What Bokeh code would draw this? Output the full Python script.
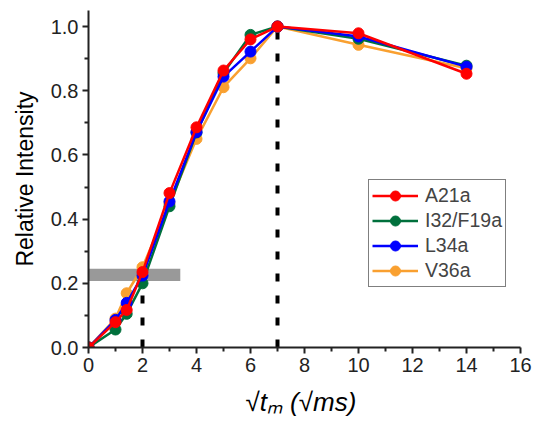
from bokeh.plotting import figure
from bokeh.models import Legend, LegendItem, FixedTicker, Range1d, ColumnDataSource
from bokeh.embed import file_html
from bokeh.resources import INLINE

# data
x_vals = [0, 1, 1.414, 2, 3, 4, 5, 6, 7, 10, 14]
a21a = [0.0, 0.079, 0.117, 0.235, 0.481, 0.686, 0.863, 0.960, 1.0, 0.979, 0.853]
i32f19a = [0.0, 0.056, 0.105, 0.200, 0.440, 0.670, 0.855, 0.974, 1.0, 0.962, 0.878]
l34a = [0.0, 0.086, 0.139, 0.224, 0.455, 0.671, 0.844, 0.922, 1.0, 0.969, 0.875]
v36a = [0.0, 0.090, 0.169, 0.250, 0.450, 0.650, 0.811, 0.901, 1.0, 0.943, 0.870]

band_x = [0, 3.4]
band_y = [0.207, 0.245]
mark_x = [2, 7]
mark_top = [0.21, 1.0]

x_ticks = [0, 2, 4, 6, 8, 10, 12, 14, 16]
x_minor = [1, 3, 5, 7, 9, 11, 13, 15]
y_ticks = [0.0, 0.2, 0.4, 0.6, 0.8, 1.0]
y_minor = [0.1, 0.3, 0.5, 0.7, 0.9]

series = [
    ("V36a", v36a, "#f9a030"),
    ("I32/F19a", i32f19a, "#00703c"),
    ("L34a", l34a, "#0000ff"),
    ("A21a", a21a, "#ff0000"),
]
legend_order = ["A21a", "I32/F19a", "L34a", "V36a"]

p = figure(width=546, height=426, output_backend="svg", toolbar_location=None,
           x_range=Range1d(0, 16), y_range=Range1d(0, 1.05),
           min_border_left=88, min_border_right=26, min_border_top=10, min_border_bottom=79)
p.frame_width = 432
p.frame_height = 337
p.outline_line_color = None
p.grid.visible = False
p.background_fill_color = "white"
p.border_fill_color = "white"

# gray band
p.quad(left=[band_x[0]], right=[band_x[1]], bottom=[band_y[0]], top=[band_y[1]],
       fill_color="#999999", line_color=None)

# dashed markers
p.segment(x0=mark_x, x1=mark_x, y0=[0, 0], y1=mark_top, line_color="black",
          line_width=4, line_dash="8 14")

renderers = {}
for name, ys, col in series:
    src = ColumnDataSource(dict(x=x_vals, y=ys))
    l = p.line("x", "y", source=src, line_color=col, line_width=2.5)
    s = p.scatter("x", "y", source=src, size=11, fill_color=col, line_color=col)
    renderers[name] = [l, s]

legend = Legend(items=[LegendItem(label=n, renderers=renderers[n]) for n in legend_order],
                location=(280, 60), border_line_color="black", border_line_width=1.5,
                padding=3, spacing=0, margin=0, glyph_width=46, glyph_height=25,
                label_height=25, label_standoff=7, label_text_font="Liberation Sans",
                label_text_font_size="19.5px", background_fill_alpha=1)
p.add_layout(legend, "center")

for ax in (p.xaxis[0], p.yaxis[0]):
    ax.axis_line_width = 2
    ax.axis_line_color = "#222222"
    ax.major_tick_line_color = "#222222"
    ax.minor_tick_line_color = "#222222"
    ax.major_tick_line_width = 2
    ax.minor_tick_line_width = 2
    ax.major_tick_in = 0
    ax.major_tick_out = 6
    ax.minor_tick_in = 0
    ax.minor_tick_out = 4
    ax.major_label_text_font = "Liberation Sans"
    ax.major_label_text_font_size = "20px"
    ax.major_label_text_color = "#222222"
    ax.axis_label_text_font = "Liberation Sans"
    ax.axis_label_text_color = "black"

p.xaxis[0].ticker = FixedTicker(ticks=x_ticks, minor_ticks=x_minor)
p.yaxis[0].ticker = FixedTicker(ticks=y_ticks, minor_ticks=y_minor)
p.yaxis[0].major_label_overrides = {v: f"{v:.1f}" for v in y_ticks}
p.xaxis[0].major_label_standoff = 4
p.yaxis[0].major_label_standoff = 4

p.xaxis[0].axis_label = "√t\u2098  (√ms)"
p.xaxis[0].axis_label_text_font_style = "italic"
p.xaxis[0].axis_label_text_font_size = "26px"
p.xaxis[0].axis_label_standoff = 12
p.yaxis[0].axis_label = "Relative Intensity"
p.yaxis[0].axis_label_text_font_style = "normal"
p.yaxis[0].axis_label_text_font_size = "23px"
p.yaxis[0].axis_label_standoff = 10

open("out.html", "w").write(file_html(p, INLINE))
